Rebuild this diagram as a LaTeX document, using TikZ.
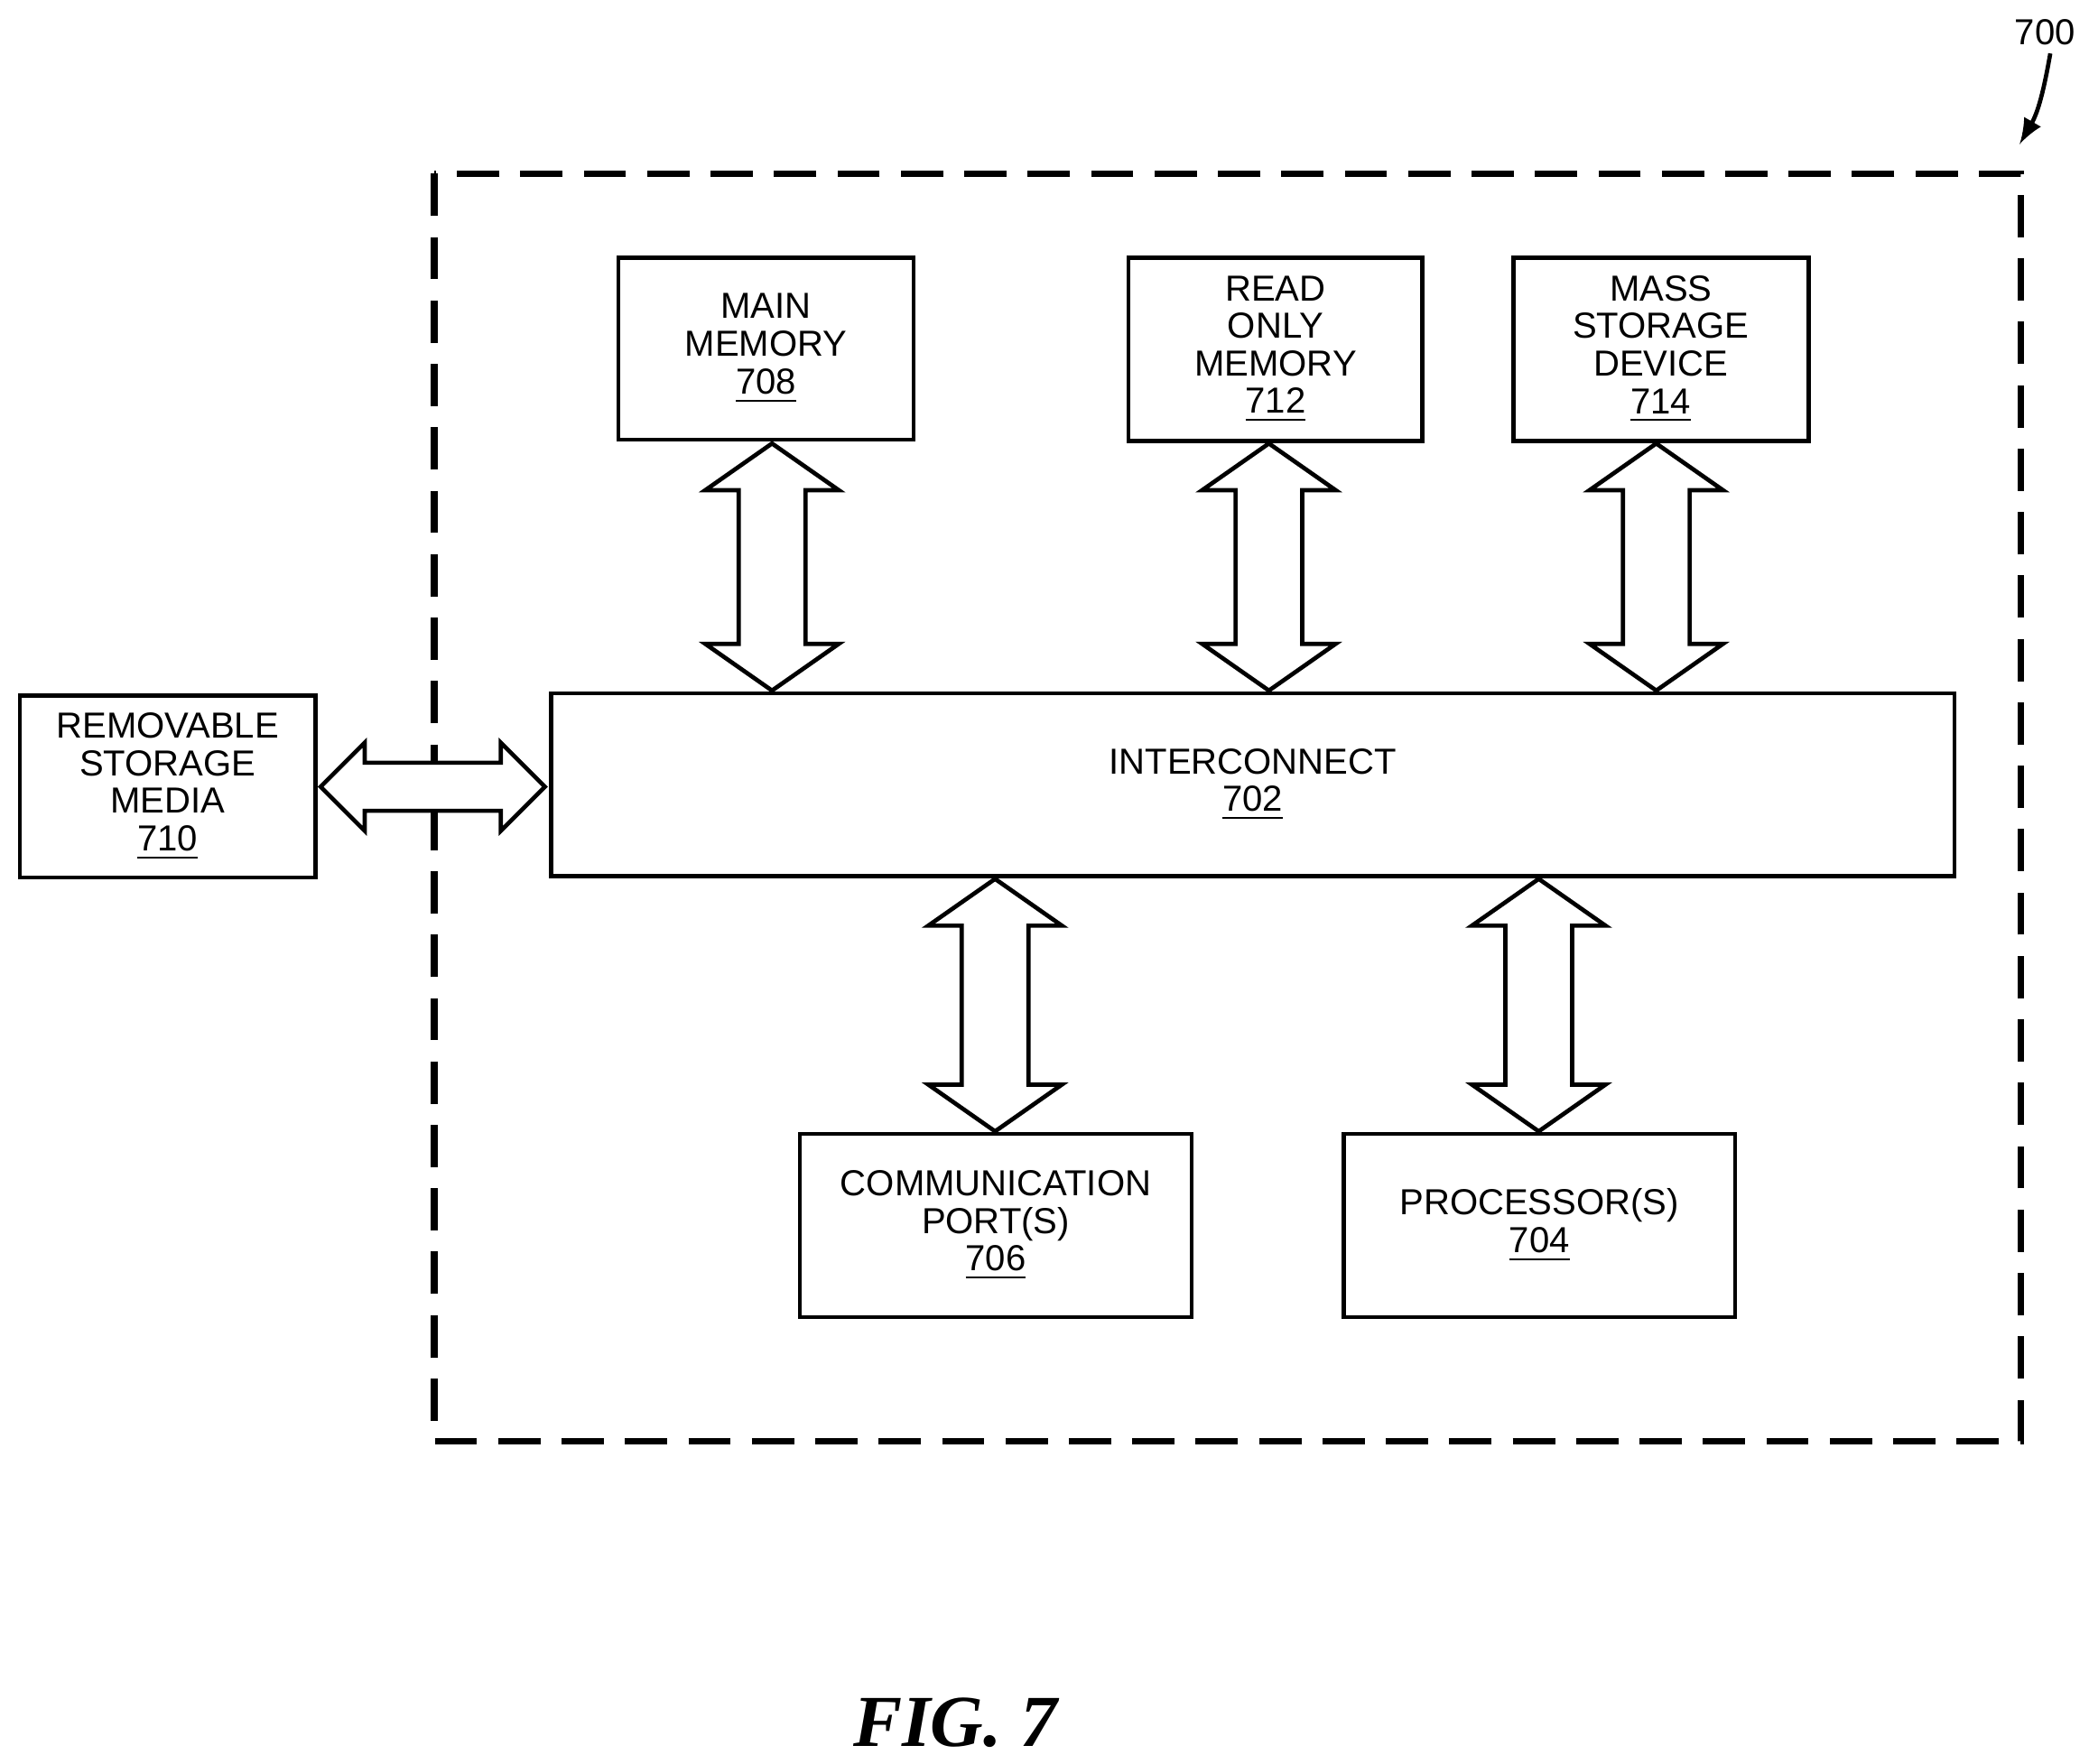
\documentclass[tikz,border=0pt]{standalone}
\usepackage{fontspec}
\setmainfont{Liberation Sans}
\newfontfamily\figfont{Liberation Serif}
\usetikzlibrary{calc}
\newcommand\dblv[3]{% x, ytop, ybot
  \draw[line width=0.9pt,fill=white] (#1,#2) -- (#1+50,#2+35) -- (#1+25,#2+35) -- (#1+25,#3-35) -- (#1+50,#3-35) -- (#1,#3) -- (#1-50,#3-35) -- (#1-25,#3-35) -- (#1-25,#2+35) -- (#1-50,#2+35) -- cycle;}
\begin{document}
\begin{tikzpicture}[x=0.01cm,y=-0.01cm,
  box/.style={draw,line width=0.9pt,align=center,font=\fontsize{7.7}{8}\selectfont,inner sep=0pt}]
\useasboundingbox (0,0) rectangle (1564,1320);
\draw[line width=1.4pt,dash pattern=on 9pt off 4.5pt] (325,130) rectangle (1513,1079);
\node[font=\fontsize{7.7}{8}\selectfont] (lab) at (1531,24) {700};
\coordinate (labt) at (1512,108);
\draw[line width=0.9pt,-latex] (1535,40) to[out=-100,in=60] (labt);
\node[box,minimum width=2.21cm,minimum height=1.36cm] (mm) at (573.5,261) {MAIN\\MEMORY\\\underline{708}};
\node[box,minimum width=2.2cm,minimum height=1.37cm] (rom) at (955,261.5) {READ\\ONLY\\MEMORY\\\underline{712}};
\node[box,minimum width=2.21cm,minimum height=1.37cm] (ms) at (1243.5,261.5) {MASS\\STORAGE\\DEVICE\\\underline{714}};
\node[box,minimum width=10.5cm,minimum height=1.37cm] (ic) at (938,587.5) {INTERCONNECT\\\underline{702}};
\node[box,minimum width=2.21cm,minimum height=1.36cm] (rsm) at (125.5,589) {REMOVABLE\\STORAGE\\MEDIA\\\underline{710}};
\node[box,minimum width=2.93cm,minimum height=1.37cm] (cp) at (745.5,917.5) {COMMUNICATION\\PORT(S)\\\underline{706}};
\node[box,minimum width=2.93cm,minimum height=1.37cm] (pr) at (1152.5,917.5) {PROCESSOR(S)\\\underline{704}};
\dblv{578}{332}{517}
\dblv{950}{332}{517}
\dblv{1240}{332}{517}
\dblv{745}{658}{847}
\dblv{1152}{658}{847}
\draw[line width=0.9pt,fill=white] (240,589) -- (273,556) -- (273,571) -- (375,571) -- (375,556) -- (408,589) -- (375,622) -- (375,607) -- (273,607) -- (273,622) -- cycle;
\node[font=\figfont\bfseries\itshape\fontsize{15.6}{18}\selectfont] (fig) at (715,1290) {FIG. 7};
\end{tikzpicture}
\end{document}
